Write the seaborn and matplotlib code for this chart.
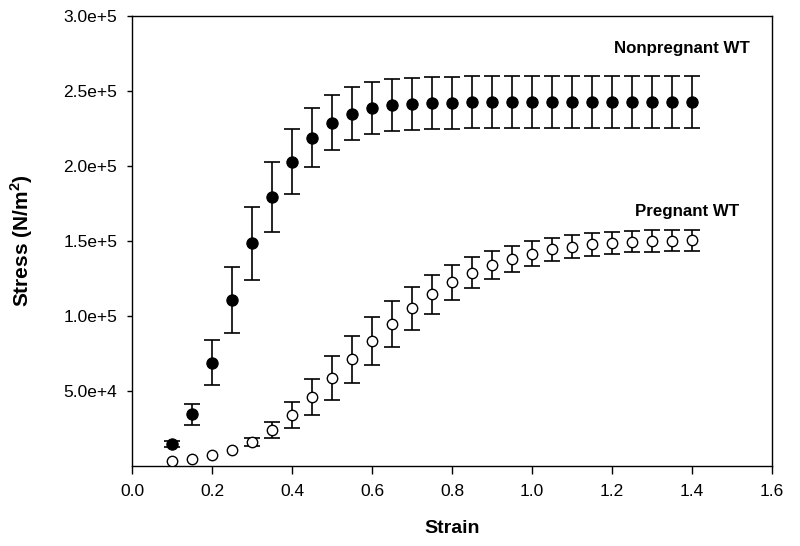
import numpy as np
import pandas as pd
import matplotlib
matplotlib.use("Agg")
import matplotlib.pyplot as plt
import seaborn as sns

# Strain values (same for both groups)
strain = [0.10, 0.15, 0.20, 0.25, 0.30, 0.35, 0.40, 0.45, 0.50, 0.55, 0.60,
          0.65, 0.70, 0.75, 0.80, 0.85, 0.90, 0.95, 1.00, 1.05, 1.10, 1.15,
          1.20, 1.25, 1.30, 1.35, 1.40]

# Nonpregnant WT (filled circles)
nonpreg_mean = [15000, 34500, 69000, 111000, 148500, 179500, 203000, 219000,
                229000, 235000, 238700, 240700, 241500, 242000, 242300, 242400,
                242500, 242500, 242500, 242500, 242500, 242500, 242500, 242500,
                242500, 242500, 242500]
nonpreg_err = [2000, 7000, 15000, 22000, 24500, 23500, 21500, 19500, 18300,
               17700, 17500, 17400, 17300, 17300, 17300, 17300, 17300, 17300,
               17300, 17300, 17300, 17300, 17300, 17300, 17300, 17300, 17300]

# Pregnant WT (open circles); the first errors are hidden under the markers
preg_mean = [3100, 4700, 7300, 10700, 16200, 24000, 34000, 45800, 58500, 71100,
             83300, 94900, 105100, 114500, 122400, 128900, 134000, 138200,
             141600, 144400, 146200, 147800, 148900, 149600, 150000, 150200,
             150400]
preg_err = [0, 0, 0, 0, 2600, 5500, 8900, 12000, 14800, 15900, 16200,
            15400, 14400, 13000, 11800, 10300, 9500, 8800, 8300, 7800, 7500,
            7500, 7300, 7200, 7100, 7000, 7000]

df = pd.DataFrame({
    "Strain": strain * 2,
    "Stress": nonpreg_mean + preg_mean,
    "err": nonpreg_err + preg_err,
    "Group": ["Nonpregnant WT"] * len(strain) + ["Pregnant WT"] * len(strain),
})

sns.set_theme(style="ticks")
plt.rcParams["font.family"] = ["Liberation Sans", "DejaVu Sans"]
plt.rcParams["mathtext.fontset"] = "custom"
plt.rcParams["mathtext.rm"] = "Liberation Sans"
plt.rcParams["mathtext.bf"] = "Liberation Sans:bold"
plt.rcParams["text.color"] = "black"
plt.rcParams["axes.labelcolor"] = "black"

fig = plt.figure(figsize=(8, 5.46), dpi=100)
ax = fig.add_axes([0.165, 0.1465, 0.8, 0.8242])

# error bars first so the markers sit on top
for grp in ["Nonpregnant WT", "Pregnant WT"]:
    sub = df[(df["Group"] == grp) & (df["err"] > 0)]
    ax.errorbar(sub["Strain"], sub["Stress"], yerr=sub["err"], fmt="none",
                ecolor="black", elinewidth=1.2, capsize=5.5, capthick=1.2,
                zorder=1)

sns.scatterplot(data=df[df["Group"] == "Nonpregnant WT"], x="Strain", y="Stress",
                color="black", edgecolor="black", s=66, linewidth=0.8,
                ax=ax, zorder=3, legend=False)
sns.scatterplot(data=df[df["Group"] == "Pregnant WT"], x="Strain", y="Stress",
                color="white", edgecolor="black", s=56, linewidth=1.0,
                ax=ax, zorder=3, legend=False)

ax.set_xlim(0, 1.6)
ax.set_ylim(0, 3.0e5)
xticks = np.arange(0, 1.61, 0.2)
ax.set_xticks(xticks)
ax.set_xticklabels([f"{t:.1f}" for t in xticks])
yticks = [5e4, 1e5, 1.5e5, 2e5, 2.5e5, 3e5]
ax.set_yticks(yticks)
ax.set_yticklabels(["5.0e+4", "1.0e+5", "1.5e+5", "2.0e+5", "2.5e+5", "3.0e+5"])

ax.tick_params(axis="both", direction="out", color="black",
               labelcolor="black", width=1)
ax.tick_params(axis="x", length=6, pad=7, labelsize=12.5)
ax.tick_params(axis="y", length=3.6, pad=7, labelsize=12.5)
for sp in ax.spines.values():
    sp.set_color("black")
    sp.set_linewidth(1)

ax.set_xlabel("Strain", fontsize=14, fontweight="bold", labelpad=15)
ax.set_ylabel(r"Stress (N/m$^\mathbf{2}$)", fontsize=15, fontweight="bold",
              labelpad=20)

ax.text(1.375, 278000, "Nonpregnant WT", ha="center", va="center",
        fontsize=12.2, fontweight="bold")
ax.text(1.3875, 169500, "Pregnant WT", ha="center", va="center",
        fontsize=12.2, fontweight="bold")

fig.savefig("out.png", dpi=100)
